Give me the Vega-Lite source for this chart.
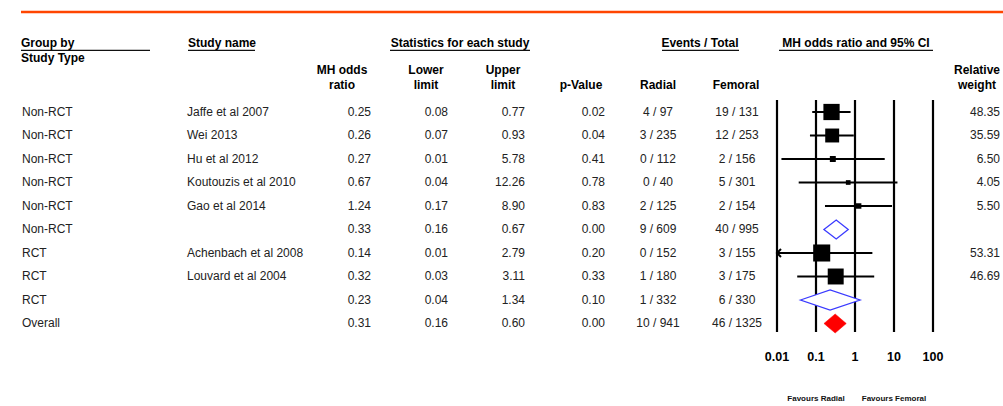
{
  "$schema": "https://vega.github.io/schema/vega-lite/v6.json",
  "width": 1003,
  "height": 406,
  "autosize": {"type": "none"},
  "padding": 0,
  "background": "white",
  "config": {
    "view": {"stroke": null},
    "text": {"font": "Liberation Sans", "fontSize": 12, "baseline": "middle", "color": "#222222"}
  },
  "datasets": {
    "studies": [
      {"row": 1, "group": "Non-RCT", "study": "Jaffe et al 2007", "or": 0.25, "lo": 0.08, "hi": 0.77, "p": 0.02, "radial": "4 / 97", "femoral": "19 / 131", "weight": 48.35, "kind": "study"},
      {"row": 2, "group": "Non-RCT", "study": "Wei 2013", "or": 0.26, "lo": 0.07, "hi": 0.93, "p": 0.04, "radial": "3 / 235", "femoral": "12 / 253", "weight": 35.59, "kind": "study"},
      {"row": 3, "group": "Non-RCT", "study": "Hu et al 2012", "or": 0.27, "lo": 0.013, "hi": 5.78, "p": 0.41, "radial": "0 / 112", "femoral": "2 / 156", "weight": 6.50, "kind": "study"},
      {"row": 4, "group": "Non-RCT", "study": "Koutouzis et al 2010", "or": 0.67, "lo": 0.036, "hi": 12.26, "p": 0.78, "radial": "0 / 40", "femoral": "5 / 301", "weight": 4.05, "kind": "study"},
      {"row": 5, "group": "Non-RCT", "study": "Gao et al 2014", "or": 1.24, "lo": 0.17, "hi": 8.90, "p": 0.83, "radial": "2 / 125", "femoral": "2 / 154", "weight": 5.50, "kind": "study"},
      {"row": 6, "group": "Non-RCT", "study": "", "or": 0.33, "lo": 0.16, "hi": 0.67, "p": 0.0, "radial": "9 / 609", "femoral": "40 / 995", "weight": null, "kind": "subtotal"},
      {"row": 7, "group": "RCT", "study": "Achenbach et al 2008", "or": 0.14, "lo": 0.006, "hi": 2.79, "p": 0.20, "radial": "0 / 152", "femoral": "3 / 155", "weight": 53.31, "kind": "study"},
      {"row": 8, "group": "RCT", "study": "Louvard et al 2004", "or": 0.32, "lo": 0.033, "hi": 3.11, "p": 0.33, "radial": "1 / 180", "femoral": "3 / 175", "weight": 46.69, "kind": "study"},
      {"row": 9, "group": "RCT", "study": "", "or": 0.23, "lo": 0.04, "hi": 1.34, "p": 0.10, "radial": "1 / 332", "femoral": "6 / 330", "weight": null, "kind": "subtotal"},
      {"row": 10, "group": "Overall", "study": "", "or": 0.31, "lo": 0.16, "hi": 0.60, "p": 0.0, "radial": "10 / 941", "femoral": "46 / 1325", "weight": null, "kind": "overall"}
    ],
    "ticks": [{"t": 0.01}, {"t": 0.1}, {"t": 1}, {"t": 10}, {"t": 100}]
  },
  "layer": [
    {
      "data": {"name": "studies"},
      "encoding": {
        "x": {"datum": 0, "type": "quantitative", "scale": {"domain": [0, 1003], "nice": false, "zero": false}, "axis": null},
        "y": {"field": "row", "type": "quantitative", "scale": {"domain": [-3.766, 13.511], "reverse": true, "nice": false, "zero": false}, "axis": null}
      },
      "layer": [
        {"mark": {"type": "text", "align": "left"}, "encoding": {"x": {"datum": 22}, "text": {"field": "group", "type": "nominal"}}},
        {"mark": {"type": "text", "align": "left"}, "encoding": {"x": {"datum": 187}, "text": {"field": "study", "type": "nominal"}}},
        {"mark": {"type": "text", "align": "right"}, "encoding": {"x": {"datum": 371}, "text": {"field": "or", "type": "quantitative", "format": ".2f"}}},
        {"mark": {"type": "text", "align": "right"}, "encoding": {"x": {"datum": 448}, "text": {"field": "lo", "type": "quantitative", "format": ".2f"}}},
        {"mark": {"type": "text", "align": "right"}, "encoding": {"x": {"datum": 525}, "text": {"field": "hi", "type": "quantitative", "format": ".2f"}}},
        {"mark": {"type": "text", "align": "right"}, "encoding": {"x": {"datum": 605}, "text": {"field": "p", "type": "quantitative", "format": ".2f"}}},
        {"mark": {"type": "text", "align": "center"}, "encoding": {"x": {"datum": 658}, "text": {"field": "radial", "type": "nominal"}}},
        {"mark": {"type": "text", "align": "center"}, "encoding": {"x": {"datum": 737}, "text": {"field": "femoral", "type": "nominal"}}},
        {"transform": [{"filter": "isValid(datum.weight)"}], "mark": {"type": "text", "align": "right"}, "encoding": {"x": {"datum": 1000}, "text": {"field": "weight", "type": "quantitative", "format": ".2f"}}}
      ]
    },
    {
      "data": {"values": [{}]},
      "encoding": {
        "x": {"datum": 0, "type": "quantitative", "scale": {"domain": [0, 1003], "nice": false, "zero": false}, "axis": null},
        "y": {"datum": -1.936, "type": "quantitative", "scale": {"domain": [-3.766, 13.511], "reverse": true, "nice": false, "zero": false}, "axis": null}
      },
      "layer": [
        {"mark": {"type": "text", "align": "left", "fontWeight": "bold", "color": "#000", "text": "Group by"}, "encoding": {"x": {"datum": 21}}},
        {"mark": {"type": "text", "align": "left", "fontWeight": "bold", "color": "#000", "text": "Study Type"}, "encoding": {"x": {"datum": 21}, "y": {"datum": -1.298}}},
        {"mark": {"type": "text", "align": "left", "fontWeight": "bold", "color": "#000", "text": "Study name"}, "encoding": {"x": {"datum": 188}}},
        {"mark": {"type": "text", "align": "center", "fontWeight": "bold", "color": "#000", "text": "Statistics for each study"}, "encoding": {"x": {"datum": 460}}},
        {"mark": {"type": "text", "align": "center", "fontWeight": "bold", "color": "#000", "text": "Events / Total"}, "encoding": {"x": {"datum": 700}}},
        {"mark": {"type": "text", "align": "center", "fontWeight": "bold", "color": "#000", "text": "MH odds ratio and 95% CI"}, "encoding": {"x": {"datum": 856}}},
        {"mark": {"type": "text", "align": "center", "fontWeight": "bold", "color": "#000", "text": "MH odds"}, "encoding": {"x": {"datum": 342}, "y": {"datum": -0.787}}},
        {"mark": {"type": "text", "align": "center", "fontWeight": "bold", "color": "#000", "text": "ratio"}, "encoding": {"x": {"datum": 342}, "y": {"datum": -0.149}}},
        {"mark": {"type": "text", "align": "center", "fontWeight": "bold", "color": "#000", "text": "Lower"}, "encoding": {"x": {"datum": 426}, "y": {"datum": -0.787}}},
        {"mark": {"type": "text", "align": "center", "fontWeight": "bold", "color": "#000", "text": "limit"}, "encoding": {"x": {"datum": 426}, "y": {"datum": -0.149}}},
        {"mark": {"type": "text", "align": "center", "fontWeight": "bold", "color": "#000", "text": "Upper"}, "encoding": {"x": {"datum": 503}, "y": {"datum": -0.787}}},
        {"mark": {"type": "text", "align": "center", "fontWeight": "bold", "color": "#000", "text": "limit"}, "encoding": {"x": {"datum": 503}, "y": {"datum": -0.149}}},
        {"mark": {"type": "text", "align": "center", "fontWeight": "bold", "color": "#000", "text": "p-Value"}, "encoding": {"x": {"datum": 581}, "y": {"datum": -0.149}}},
        {"mark": {"type": "text", "align": "center", "fontWeight": "bold", "color": "#000", "text": "Radial"}, "encoding": {"x": {"datum": 658}, "y": {"datum": -0.149}}},
        {"mark": {"type": "text", "align": "center", "fontWeight": "bold", "color": "#000", "text": "Femoral"}, "encoding": {"x": {"datum": 736}, "y": {"datum": -0.149}}},
        {"mark": {"type": "text", "align": "center", "fontWeight": "bold", "color": "#000", "text": "Relative"}, "encoding": {"x": {"datum": 977}, "y": {"datum": -0.787}}},
        {"mark": {"type": "text", "align": "center", "fontWeight": "bold", "color": "#000", "text": "weight"}, "encoding": {"x": {"datum": 977}, "y": {"datum": -0.149}}},
        {"mark": {"type": "rule", "color": "#111", "strokeWidth": 1.3}, "encoding": {"x": {"datum": 21}, "x2": {"datum": 150}, "y": {"datum": -1.62}}},
        {"mark": {"type": "rule", "color": "#111", "strokeWidth": 1.3}, "encoding": {"x": {"datum": 188}, "x2": {"datum": 255}, "y": {"datum": -1.62}}},
        {"mark": {"type": "rule", "color": "#111", "strokeWidth": 1.3}, "encoding": {"x": {"datum": 390}, "x2": {"datum": 530}, "y": {"datum": -1.62}}},
        {"mark": {"type": "rule", "color": "#111", "strokeWidth": 1.3}, "encoding": {"x": {"datum": 662}, "x2": {"datum": 739}, "y": {"datum": -1.62}}},
        {"mark": {"type": "rule", "color": "#111", "strokeWidth": 1.3}, "encoding": {"x": {"datum": 779}, "x2": {"datum": 933}, "y": {"datum": -1.62}}},
        {"mark": {"type": "rule", "color": "#ff4500", "strokeWidth": 2.5}, "encoding": {"x": {"datum": 21}, "x2": {"datum": 1003}, "y": {"datum": -3.255}}}
      ]
    },
    {
      "data": {"name": "ticks"},
      "encoding": {
        "x": {"field": "t", "type": "quantitative", "scale": {"type": "log", "domain": [0.01, 100], "range": [777, 933], "clamp": true, "nice": false}, "axis": null},
        "y": {"datum": 0.489, "type": "quantitative", "scale": {"domain": [-3.766, 13.511], "reverse": true, "nice": false, "zero": false}, "axis": null}
      },
      "layer": [
        {"mark": {"type": "rule", "color": "#000", "strokeWidth": 2.2}, "encoding": {"y2": {"datum": 10.362}}},
        {"mark": {"type": "text", "align": "center", "fontWeight": "bold", "fontSize": 12.5, "color": "#000"}, "encoding": {"y": {"datum": 11.43}, "text": {"field": "t", "type": "quantitative", "format": "~g"}}}
      ]
    },
    {
      "data": {"name": "studies"},
      "encoding": {
        "x": {"field": "or", "type": "quantitative", "scale": {"type": "log", "domain": [0.01, 100], "range": [777, 933], "clamp": true, "nice": false}, "axis": null},
        "y": {"field": "row", "type": "quantitative", "scale": {"domain": [-3.766, 13.511], "reverse": true, "nice": false, "zero": false}, "axis": null}
      },
      "layer": [
        {"transform": [{"filter": "datum.kind == 'study'"}], "mark": {"type": "rule", "color": "#000", "strokeWidth": 2}, "encoding": {"x": {"field": "lo"}, "x2": {"field": "hi"}}},
        {"transform": [{"filter": "datum.kind == 'study' && datum.lo < 0.01"}], "mark": {"type": "point", "shape": "M 1 -1 L 0 0 L 1 1", "size": 64, "filled": false, "color": "#000", "strokeWidth": 2, "opacity": 1}, "encoding": {"x": {"field": "lo"}}},
        {"transform": [{"filter": "datum.kind == 'study'"}], "mark": {"type": "point", "shape": "square", "filled": true, "color": "#000", "opacity": 1}, "encoding": {"size": {"field": "weight", "type": "quantitative", "scale": {"domain": [0, 55], "range": [0, 300]}, "legend": null}}},
        {"transform": [{"filter": "datum.kind == 'subtotal'"}], "mark": {"type": "point", "size": 400, "opacity": 1, "filled": true, "fill": "#ffffff", "stroke": "#3a3aff", "strokeWidth": 1.3}, "encoding": {"shape": {"field": "group", "type": "nominal", "scale": {"domain": ["Non-RCT", "RCT", "Overall"], "range": ["M -1.23 0 L 0 -0.95 L 1.2 0 L 0 0.95 Z", "M -2.96 0 L 0 -1.0 L 2.99 0 L 0 1.0 Z", "M -1.12 0 L 0 -0.95 L 1.11 0 L 0 0.95 Z"]}, "legend": null}}},
        {"transform": [{"filter": "datum.kind == 'overall'"}], "mark": {"type": "point", "size": 400, "opacity": 1, "filled": true, "fill": "#ff0000", "stroke": "#ff0000", "strokeWidth": 0.5}, "encoding": {"shape": {"field": "group", "type": "nominal", "legend": null}}}
      ]
    },
    {
      "data": {"values": [{}]},
      "encoding": {
        "x": {"datum": 1, "type": "quantitative", "scale": {"type": "log", "domain": [0.01, 100], "range": [777, 933], "clamp": true, "nice": false}, "axis": null},
        "y": {"datum": 13.21, "type": "quantitative", "scale": {"domain": [-3.766, 13.511], "reverse": true, "nice": false, "zero": false}, "axis": null}
      },
      "layer": [
        {"mark": {"type": "text", "align": "center", "fontWeight": "bold", "fontSize": 8, "color": "#111", "text": "Favours Radial"}, "encoding": {"x": {"datum": 0.1}}},
        {"mark": {"type": "text", "align": "center", "fontWeight": "bold", "fontSize": 8, "color": "#111", "text": "Favours Femoral"}, "encoding": {"x": {"datum": 10}}}
      ]
    }
  ],
  "resolve": {"scale": {"x": "independent"}}
}
